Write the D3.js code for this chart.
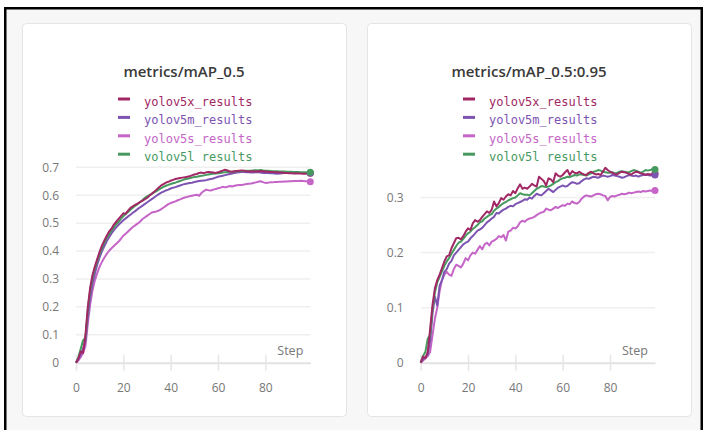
<!DOCTYPE html>
<html>
<head>
<meta charset="utf-8">
<script src="https://cdn.jsdelivr.net/npm/d3@7"></script>
<style>
  body { margin: 0; background: #fff; }
  svg { display: block; }
</style>
</head>
<body>
<div id="chart"></div>
<script>
// run names, in legend order
var seriesNames = ["yolov5x_results", "yolov5m_results", "yolov5s_results", "yolov5l_results"];
var seriesColors = ["#A12864", "#7D54B2", "#C565C7", "#479A5F"];

var xTicks = [0, 20, 40, 60, 80];
var yTicksMap50 = [0, 0.1, 0.2, 0.3, 0.4, 0.5, 0.6, 0.7];
var yTicksMap5095 = [0, 0.1, 0.2, 0.3];

// metrics/mAP_0.5, one value per step (0..99)
var map50_x = [0.000,0.015,0.040,0.035,0.100,0.200,0.270,0.315,0.345,0.372,
  0.398,0.420,0.438,0.455,0.470,0.480,0.495,0.505,0.515,0.525,
  0.535,0.534,0.545,0.555,0.560,0.565,0.570,0.575,0.580,0.585,
  0.590,0.598,0.605,0.612,0.620,0.628,0.635,0.640,0.645,0.648,
  0.652,0.655,0.658,0.660,0.662,0.663,0.664,0.666,0.668,0.671,
  0.674,0.676,0.680,0.681,0.679,0.682,0.683,0.682,0.681,0.680,
  0.682,0.685,0.688,0.691,0.689,0.685,0.684,0.686,0.687,0.688,
  0.689,0.688,0.686,0.685,0.686,0.686,0.685,0.686,0.687,0.686,
  0.685,0.684,0.683,0.683,0.682,0.682,0.681,0.681,0.680,0.680,
  0.679,0.679,0.678,0.679,0.678,0.678,0.677,0.677,0.678,0.679];
var map50_m = [0.000,0.012,0.030,0.050,0.080,0.165,0.235,0.285,0.320,0.352,
  0.378,0.400,0.418,0.435,0.450,0.463,0.475,0.485,0.494,0.502,
  0.510,0.517,0.524,0.530,0.537,0.543,0.550,0.556,0.562,0.568,
  0.574,0.580,0.586,0.592,0.598,0.604,0.609,0.613,0.617,0.620,
  0.624,0.627,0.629,0.632,0.635,0.638,0.640,0.642,0.644,0.645,
  0.647,0.649,0.651,0.652,0.653,0.654,0.656,0.658,0.660,0.663,
  0.666,0.668,0.670,0.672,0.674,0.676,0.678,0.680,0.681,0.682,
  0.683,0.683,0.682,0.682,0.681,0.681,0.682,0.682,0.681,0.680,
  0.680,0.680,0.679,0.679,0.678,0.677,0.678,0.679,0.680,0.681,
  0.681,0.681,0.680,0.680,0.680,0.680,0.680,0.680,0.680,0.680];
var map50_s = [0.000,0.008,0.020,0.035,0.060,0.140,0.210,0.260,0.296,0.322,
  0.344,0.362,0.377,0.390,0.401,0.410,0.418,0.426,0.434,0.444,
  0.455,0.462,0.470,0.478,0.486,0.492,0.498,0.505,0.514,0.520,
  0.526,0.532,0.538,0.540,0.542,0.545,0.550,0.556,0.562,0.568,
  0.572,0.575,0.578,0.582,0.585,0.589,0.592,0.594,0.596,0.598,
  0.600,0.602,0.598,0.608,0.615,0.620,0.618,0.617,0.620,0.622,
  0.625,0.627,0.630,0.628,0.630,0.633,0.631,0.634,0.636,0.637,
  0.637,0.638,0.640,0.641,0.642,0.644,0.646,0.648,0.650,0.647,
  0.644,0.645,0.646,0.646,0.647,0.647,0.648,0.648,0.649,0.649,
  0.650,0.650,0.651,0.651,0.651,0.652,0.651,0.650,0.649,0.648];
var map50_l = [0.000,0.020,0.050,0.080,0.090,0.190,0.260,0.305,0.338,0.365,
  0.390,0.412,0.430,0.447,0.460,0.472,0.485,0.496,0.505,0.515,
  0.525,0.533,0.540,0.548,0.555,0.562,0.568,0.575,0.582,0.590,
  0.596,0.600,0.605,0.610,0.615,0.620,0.625,0.630,0.634,0.637,
  0.640,0.643,0.645,0.648,0.651,0.654,0.657,0.659,0.661,0.663,
  0.665,0.666,0.668,0.670,0.671,0.673,0.674,0.676,0.677,0.678,
  0.679,0.680,0.681,0.682,0.683,0.684,0.684,0.685,0.686,0.686,
  0.687,0.687,0.688,0.688,0.688,0.689,0.689,0.689,0.690,0.689,
  0.688,0.688,0.687,0.686,0.686,0.686,0.685,0.685,0.685,0.684,
  0.684,0.684,0.683,0.683,0.683,0.682,0.682,0.682,0.682,0.682];

// metrics/mAP_0.5:0.95
var map5095_x = [0.000,0.011,0.008,0.020,0.062,0.105,0.135,0.150,0.160,0.172,
  0.184,0.193,0.195,0.208,0.217,0.226,0.227,0.224,0.230,0.238,
  0.244,0.241,0.253,0.259,0.256,0.259,0.265,0.270,0.275,0.272,
  0.278,0.293,0.284,0.290,0.299,0.296,0.302,0.306,0.304,0.312,
  0.308,0.317,0.324,0.316,0.318,0.316,0.320,0.325,0.322,0.320,
  0.338,0.334,0.330,0.322,0.335,0.333,0.328,0.344,0.340,0.338,
  0.341,0.346,0.350,0.341,0.348,0.345,0.344,0.347,0.344,0.342,
  0.341,0.345,0.347,0.344,0.342,0.343,0.341,0.347,0.354,0.350,
  0.347,0.345,0.343,0.342,0.345,0.347,0.346,0.345,0.343,0.342,
  0.345,0.347,0.346,0.344,0.343,0.341,0.343,0.342,0.343,0.344];
var map5095_m = [0.000,0.006,0.010,0.015,0.040,0.090,0.120,0.104,0.140,0.150,
  0.165,0.170,0.180,0.185,0.195,0.200,0.205,0.210,0.215,0.218,
  0.220,0.226,0.230,0.235,0.240,0.242,0.245,0.250,0.255,0.258,
  0.262,0.265,0.272,0.271,0.275,0.278,0.280,0.283,0.285,0.284,
  0.288,0.290,0.292,0.294,0.297,0.296,0.300,0.298,0.303,0.307,
  0.305,0.304,0.308,0.312,0.316,0.313,0.310,0.314,0.318,0.320,
  0.322,0.320,0.321,0.325,0.328,0.327,0.325,0.326,0.330,0.333,
  0.335,0.334,0.336,0.338,0.337,0.336,0.338,0.340,0.339,0.338,
  0.339,0.341,0.340,0.339,0.338,0.336,0.337,0.339,0.341,0.340,
  0.339,0.340,0.338,0.340,0.341,0.342,0.341,0.340,0.341,0.341];
var map5095_s = [0.000,0.004,0.008,0.012,0.020,0.050,0.080,0.100,0.130,0.150,
  0.160,0.165,0.160,0.158,0.170,0.178,0.176,0.173,0.180,0.190,
  0.186,0.195,0.200,0.198,0.205,0.212,0.206,0.215,0.218,0.213,
  0.220,0.222,0.225,0.230,0.228,0.232,0.222,0.238,0.240,0.245,
  0.244,0.248,0.255,0.258,0.256,0.260,0.262,0.263,0.265,0.268,
  0.271,0.273,0.274,0.280,0.278,0.277,0.280,0.283,0.281,0.284,
  0.286,0.285,0.289,0.288,0.293,0.290,0.289,0.292,0.298,0.302,
  0.304,0.303,0.302,0.304,0.306,0.307,0.306,0.304,0.303,0.295,
  0.301,0.303,0.302,0.304,0.305,0.307,0.306,0.307,0.309,0.308,
  0.309,0.310,0.311,0.310,0.312,0.311,0.312,0.313,0.312,0.313];
var map5095_l = [0.000,0.012,0.020,0.044,0.050,0.098,0.128,0.146,0.156,0.166,
  0.176,0.184,0.190,0.198,0.205,0.212,0.218,0.220,0.225,0.231,
  0.235,0.238,0.243,0.246,0.250,0.255,0.257,0.262,0.265,0.268,
  0.270,0.276,0.280,0.283,0.287,0.290,0.292,0.295,0.297,0.299,
  0.300,0.304,0.308,0.306,0.305,0.305,0.304,0.308,0.312,0.316,
  0.318,0.321,0.320,0.319,0.320,0.322,0.325,0.328,0.330,0.333,
  0.335,0.336,0.338,0.337,0.339,0.341,0.340,0.342,0.342,0.341,
  0.340,0.342,0.344,0.347,0.348,0.350,0.349,0.347,0.346,0.345,
  0.345,0.346,0.344,0.345,0.347,0.348,0.347,0.346,0.346,0.348,
  0.350,0.349,0.347,0.345,0.347,0.350,0.349,0.350,0.352,0.351];

var width = 708, height = 430;

var svg = d3.select("#chart")
    .append("svg")
    .attr("width", width)
    .attr("height", height);

// page background and the black frame around the screenshot
svg.append("rect")
    .attr("x", 5.25).attr("y", 8.25)
    .attr("width", 696.5).attr("height", 440)
    .attr("fill", "#f7f7f7")
    .attr("stroke", "#000")
    .attr("stroke-width", 2.5);

var panels = [
  { title: "metrics/mAP_0.5", left: 22, values: [map50_x, map50_m, map50_s, map50_l],
    yTicks: yTicksMap50, yMax: 0.7, plotLeft: 76, plotRight: 310.3 },
  { title: "metrics/mAP_0.5:0.95", left: 367, values: [map5095_x, map5095_m, map5095_s, map5095_l],
    yTicks: yTicksMap5095, yMax: 0.355, plotLeft: 420.7, plotRight: 655 }
];

var plotTop = 167.3, plotBottom = 362.7;

panels.forEach(function(p) {
  var g = svg.append("g");
  var cx = p.left + 162;

  g.append("rect")
      .attr("x", p.left + 0.5).attr("y", 23.5)
      .attr("width", 324).attr("height", 393)
      .attr("rx", 4)
      .attr("fill", "#fff")
      .attr("stroke", "#e4e4e4");

  g.append("text")
      .attr("x", cx).attr("y", 77)
      .attr("text-anchor", "middle")
      .attr("font-family", "Open Sans")
      .attr("font-size", 15)
      .attr("font-weight", 600)
      .attr("fill", "#3a3a3a")
      .text(p.title);

  // legend
  var legendX = cx - 66;
  var legend = g.selectAll(".legend")
      .data(seriesNames)
      .enter()
      .append("g")
      .attr("transform", function(d, i) {
        return "translate(" + legendX + "," + (106 + i * 18.4) + ")";
      });

  legend.append("rect")
      .attr("x", 0).attr("y", -8.5)
      .attr("width", 12).attr("height", 3)
      .attr("fill", function(d, i) { return seriesColors[i]; });

  legend.append("text")
      .attr("x", 26)
      .attr("font-family", "DejaVu Sans Mono")
      .attr("font-size", 12)
      .attr("fill", function(d, i) { return seriesColors[i]; })
      .text(function(d) { return d; });

  // plot area sits on top of the legend's last row
  g.append("rect")
      .attr("x", p.left + 20).attr("y", 161)
      .attr("width", 284).attr("height", 200)
      .attr("fill", "#fff");

  var x = d3.scaleLinear().domain([0, 99]).range([p.plotLeft, p.plotRight]);
  var y = d3.scaleLinear().domain([0, p.yMax]).range([plotBottom, plotTop]);

  g.selectAll(".grid")
      .data(p.yTicks.slice(1))
      .enter()
      .append("line")
      .attr("x1", p.plotLeft).attr("x2", p.plotRight)
      .attr("y1", function(d) { return y(d); })
      .attr("y2", function(d) { return y(d); })
      .attr("stroke", "#efefef")
      .attr("stroke-width", 1.5);

  var yAxis = g.append("g")
      .attr("transform", "translate(" + p.plotLeft + ",0)")
      .call(d3.axisLeft(y).tickValues(p.yTicks).tickSize(0).tickPadding(17)
        .tickFormat(function(d) { return d; }));
  yAxis.select(".domain").remove();
  yAxis.selectAll("text")
      .attr("font-family", "Open Sans")
      .attr("font-size", 12)
      .attr("fill", "#777");

  var xAxis = g.append("g")
      .attr("transform", "translate(0," + plotBottom + ")")
      .call(d3.axisBottom(x).tickValues(xTicks).tickSize(8).tickSizeOuter(0).tickPadding(13));
  xAxis.select(".domain")
      .attr("stroke", "#e2e2e2")
      .attr("stroke-width", 2);
  xAxis.selectAll(".tick line")
      .attr("y1", -8)
      .attr("stroke", "#e6e6e6")
      .attr("stroke-width", 1.5);
  xAxis.selectAll("text")
      .attr("font-family", "Open Sans")
      .attr("font-size", 12)
      .attr("fill", "#777");

  g.append("text")
      .attr("x", p.plotRight - 7).attr("y", 355)
      .attr("text-anchor", "end")
      .attr("font-family", "Open Sans")
      .attr("font-size", 12.5)
      .attr("fill", "#777")
      .text("Step");

  var line = d3.line()
      .x(function(d, i) { return x(i); })
      .y(function(d) { return y(d); });

  // draw s, m, l, x so the big model ends up on top
  [2, 1, 3, 0].forEach(function(k) {
    g.append("path")
        .attr("d", line(p.values[k]))
        .attr("fill", "none")
        .attr("stroke", seriesColors[k])
        .attr("stroke-width", 2)
        .attr("stroke-linejoin", "round");
  });

  [0, 1, 2, 3].forEach(function(k) {
    var v = p.values[k];
    g.append("circle")
        .attr("cx", x(v.length - 1))
        .attr("cy", y(v[v.length - 1]))
        .attr("r", 3.5)
        .attr("fill", seriesColors[k]);
  });
});
</script>
</body>
</html>
